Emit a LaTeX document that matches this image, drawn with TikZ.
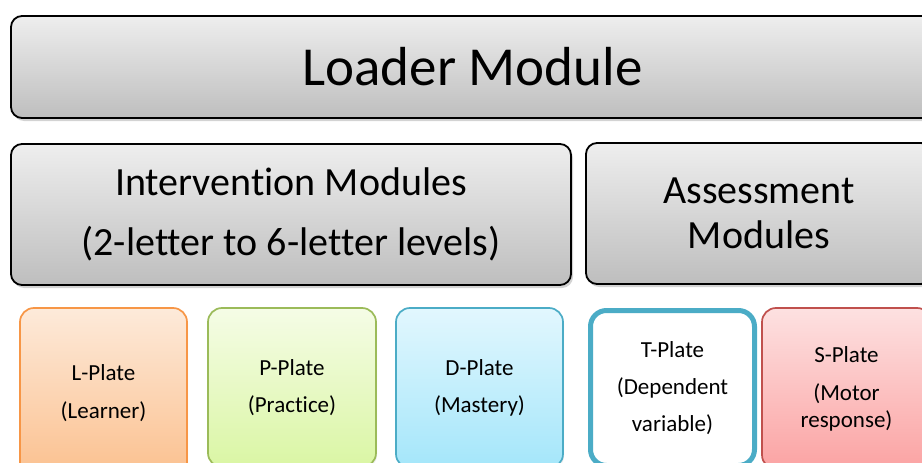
\documentclass[tikz,border=0pt]{standalone}
\usepackage{fontspec}
\setmainfont[Ligatures=NoCommon]{Carlito}
\usetikzlibrary{shadows}
\definecolor{graytop}{RGB}{238,238,238}
\definecolor{graybot}{RGB}{190,190,190}
\definecolor{orange1}{RGB}{247,150,70}
\definecolor{orangetop}{RGB}{253,234,218}
\definecolor{orangebot}{RGB}{251,192,142}
\definecolor{green1}{RGB}{155,187,89}
\definecolor{greentop}{RGB}{245,252,230}
\definecolor{greenbot}{RGB}{218,246,164}
\definecolor{blue1}{RGB}{75,172,198}
\definecolor{bluetop}{RGB}{226,247,254}
\definecolor{bluebot}{RGB}{164,230,250}
\definecolor{red1}{RGB}{192,80,77}
\definecolor{redtop}{RGB}{253,225,225}
\definecolor{redbot}{RGB}{251,163,163}

\begin{document}
\begin{tikzpicture}[x=1pt, y=-1pt,
	modulebox/.style=	{rectangle, rounded corners=11pt, inner sep=0pt, align=center, draw=black, line width=1.8pt,
					top color=graytop, bottom color=graybot,
					drop shadow={shadow xshift=2pt, shadow yshift=-3pt, opacity=0.35}},
	platebox/.style=	{rectangle, rounded corners=14pt, inner sep=0pt, align=center, line width=1.7pt,
					font=\fontsize{23}{37.5}\selectfont,
					drop shadow={shadow xshift=1pt, shadow yshift=-2pt, opacity=0.15}},
	lplate/.style=		{platebox, draw=orange1, top color=orangetop, bottom color=orangebot},
	pplate/.style=		{platebox, draw=green1, top color=greentop, bottom color=greenbot},
	dplate/.style=		{platebox, draw=blue1, top color=bluetop, bottom color=bluebot},
	tplate/.style=		{platebox, draw=blue1, fill=white, line width=5pt, rounded corners=16pt},
	splate/.style=		{platebox, draw=red1, top color=redtop, bottom color=redbot}]
	\useasboundingbox (0,0) rectangle (922,463);
	\clip (0,0) rectangle (922,463);

	% top layer
	\node[modulebox, minimum width=923pt, minimum height=102pt, font=\fontsize{55}{60}\selectfont]
		(loader) at (472.5,67) {Loader Module};

	% module layer
	\node[modulebox, minimum width=560pt, minimum height=141pt, font=\fontsize{40}{60}\selectfont]
		(intervention) at (291,214.5) {Intervention Modules\\(2-letter to 6-letter levels)};
	\node[modulebox, minimum width=346pt, minimum height=141pt, font=\fontsize{40}{45}\selectfont]
		(assessment) at (759,213.5) {Assessment\\Modules};

	% plates
	\node[lplate, minimum width=167pt, minimum height=170pt] (lplate) at (103.5,393) {L-Plate\\(Learner)};
	\node[pplate, minimum width=168pt, minimum height=159pt] (pplate) at (292,387.5) {P-Plate\\(Practice)};
	\node[dplate, minimum width=167pt, minimum height=160pt] (dplate) at (479.5,388) {D-Plate\\(Mastery)};
	\node[tplate, minimum width=164pt, minimum height=155pt, font=\fontsize{23}{37}\selectfont]
		(tplate) at (672.5,388) {T-Plate\\(Dependent\\variable)};
	\node[splate, minimum width=169pt, minimum height=161pt, font=\fontsize{23}{27}\selectfont]
		(splate) at (846.5,388.5) {S-Plate\\[11pt](Motor\\response)};
\end{tikzpicture}
\end{document}
